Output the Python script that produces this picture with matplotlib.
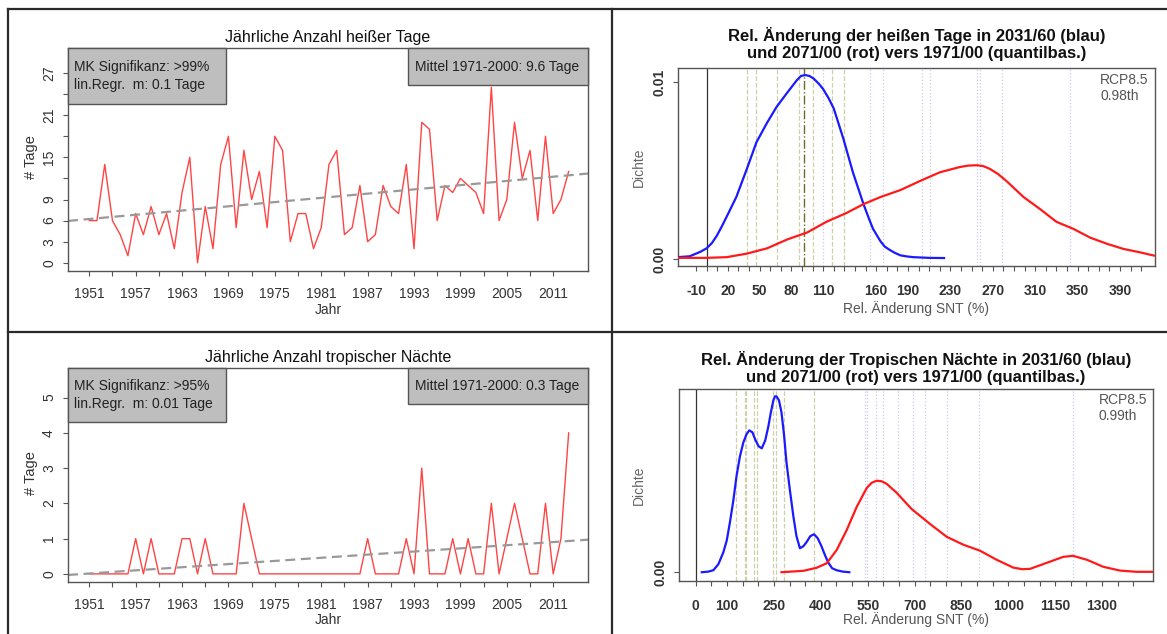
import matplotlib
matplotlib.use("Agg")
import matplotlib.pyplot as plt
from matplotlib.lines import Line2D
from matplotlib.patches import Rectangle

plt.rcParams['font.family'] = ['Liberation Sans', 'DejaVu Sans']

# --- data ---
years = list(range(1951, 2014))
hot_days = [6, 6, 14, 6, 4, 1, 7, 4, 8, 4,
            7, 2, 10, 15, 0, 8, 2, 14, 18, 5,
            16, 9, 13, 5, 18, 16, 3, 7, 7, 2,
            5, 14, 16, 4, 5, 11, 3, 4, 11, 8,
            7, 14, 2, 20, 19, 6, 11, 10, 12, 11,
            10, 7, 25, 6, 9, 20, 12, 16, 6, 18,
            7, 9, 13]
trop_nights = [0, 0, 0, 0, 0, 0, 1, 0, 1, 0,
               0, 0, 1, 1, 0, 1, 0, 0, 0, 0,
               2, 1, 0, 0, 0, 0, 0, 0, 0, 0,
               0, 0, 0, 0, 0, 0, 1, 0, 0, 0,
               0, 1, 0, 3, 0, 0, 0, 1, 0, 1,
               0, 0, 2, 0, 1, 2, 1, 0, 0, 2,
               0, 1, 4]
trend_years = [1948.25, 2015.5]
trend_hot = [5.95, 12.7]
trend_trop = [-0.03, 0.97]

# density curves, heisse Tage
hot_blue_x = [-27, -16, -6, 0, 5, 9.5, 14, 19, 28, 38, 47, 57, 66, 76, 85, 89, 93, 97,
              101, 106, 110, 115, 120, 129, 138, 148, 153, 157, 161, 164, 168, 173,
              178, 183, 189, 195, 210, 224]
hot_blue_y = [0.0001, 0.00015, 0.0004, 0.0006, 0.0009, 0.0013, 0.0018, 0.0024, 0.0035,
              0.0051, 0.0066, 0.0077, 0.0086, 0.0094, 0.0101, 0.01035, 0.0104, 0.01035,
              0.0102, 0.0099, 0.0096, 0.0091, 0.0085, 0.0068, 0.0049, 0.0031, 0.0023,
              0.0017, 0.0013, 0.0010, 0.0007, 0.0005, 0.00033, 0.0002, 0.00014, 0.0001,
              0.00006, 0.00005]
hot_red_x = [-27, 0, 19, 38, 57, 76, 95, 113, 132, 148, 164, 183, 201, 220, 239, 247,
             255, 261, 267, 275, 283, 299, 315, 330, 346, 362, 378, 393, 409, 422]
hot_red_y = [0.00006, 0.00006, 0.0001, 0.0003, 0.0006, 0.0011, 0.0015, 0.0021, 0.0026,
             0.0031, 0.0035, 0.0039, 0.0044, 0.0049, 0.0052, 0.00528, 0.0053, 0.00525,
             0.0051, 0.0048, 0.0044, 0.0035, 0.0028, 0.0021, 0.0017, 0.0012, 0.00085,
             0.00057, 0.00037, 0.00019]
hot_q_blue = [38, 47, 66, 87, 100, 118, 130]
hot_q_blue_median = 92
hot_q_red = [110, 154, 166, 203, 211, 255, 258, 279, 343]

# density curves, tropische Naechte
trop_blue_x = [19, 40, 56, 72, 88, 99, 109, 120, 130, 141, 152, 162, 171, 181, 191, 201,
               211, 222, 232, 240, 248, 253, 258, 266, 274, 282, 290, 301, 312, 322,
               333, 344, 354, 366, 378, 390, 402, 412, 423, 436, 450, 470, 491]
trop_blue_y = [0.0, 0.00003, 0.0001, 0.0004, 0.001, 0.0016, 0.0025, 0.0036, 0.0048,
               0.0058, 0.0065, 0.0069, 0.0071, 0.0070, 0.0066, 0.0063, 0.0062, 0.0066,
               0.0073, 0.0080, 0.0086, 0.0088, 0.0088, 0.0086, 0.008, 0.0069, 0.0055,
               0.0041, 0.0028, 0.0018, 0.0012, 0.0013, 0.0015, 0.0018, 0.0019, 0.0017,
               0.0013, 0.0009, 0.0005, 0.0002, 0.0001, 0.00003, 0.0]
trop_red_x = [274, 344, 386, 419, 451, 483, 515, 547, 563, 579, 595, 611, 643, 690, 749,
              803, 857, 909, 963, 1016, 1045, 1070, 1123, 1176, 1207, 1252, 1304, 1358,
              1411, 1463]
trop_red_y = [0.0, 0.00007, 0.00022, 0.00045, 0.00112, 0.00212, 0.00328, 0.00422,
              0.00448, 0.00458, 0.00455, 0.00442, 0.00397, 0.00317, 0.00242, 0.00177,
              0.00137, 0.00108, 0.00062, 0.00023, 0.00015, 0.00017, 0.00047, 0.00077,
              0.00082, 0.00062, 0.00027, 0.00008, 0.00002, 0.00002]
trop_q_blue = [128, 157, 160, 186, 195, 246, 258, 282, 378]
trop_q_red = [541, 547, 576, 598, 647, 695, 733, 803, 906, 1207]

hot_xlabels = [-10, 20, 50, 80, 110, 160, 190, 230, 270, 310, 350, 390]
trop_xlabels = [0, 100, 250, 400, 550, 700, 850, 1000, 1150, 1300]

W, H = 1167, 634
fig = plt.figure(figsize=(W / 100, H / 100), dpi=100)


def px_axes(l, t, r, b):
    return fig.add_axes([l / W, 1 - b / H, (r - l) / W, (b - t) / H])


def style(ax, bold=False, xpad=8):
    for s in ax.spines.values():
        s.set_color('#555555')
        s.set_linewidth(1.0)
    ax.tick_params(direction='out', length=3.6, width=0.8, color='#555555',
                   labelcolor='#333333', labelsize=10)
    ax.tick_params(axis='x', pad=xpad)
    ax.tick_params(axis='y', pad=5)
    for lab in ax.get_yticklabels():
        lab.set_rotation(90)
        lab.set_va('center')
    if bold:
        for lab in ax.get_xticklabels() + ax.get_yticklabels():
            lab.set_fontweight('bold')


def info_box(ax, x0, x1, y0, lines, tx):
    ax.add_patch(Rectangle((x0, y0), x1 - x0, 1 - y0, transform=ax.transAxes,
                           facecolor='#bebebe', edgecolor='#555555', lw=1.0,
                           zorder=5, clip_on=False))
    ax.text(tx, y0 + (1 - y0) / 2, lines, transform=ax.transAxes, ha='left',
            va='center', fontsize=10, color='#222222', zorder=6, linespacing=1.35)


def timeseries(ax, values, trend, ylim, yticks, ylabels, title, box_l, box_r):
    ax.plot(years, values, color='#ff4444', lw=1.0)
    ax.plot(trend_years, trend, color='#999999', lw=1.6, dashes=(4.5, 2.5))
    ax.set_xlim(1948.25, 2015.5)
    ax.set_ylim(*ylim)
    ax.set_xticks(range(1951, 2012, 3))
    ax.set_xticklabels([str(y) if (y - 1951) % 6 == 0 else '' for y in range(1951, 2012, 3)])
    ax.set_yticks(yticks)
    ax.set_yticklabels(ylabels)
    ax.set_title(title, fontsize=11.5, pad=4.5, color='#111111')
    ax.set_xlabel('Jahr', fontsize=10, color='#333333')
    ax.set_ylabel('# Tage', fontsize=10.5, color='#333333')
    ax.xaxis.set_label_coords(0.5, -0.145)
    ax.yaxis.set_label_coords(-0.058, 0.51)
    style(ax)
    info_box(ax, 0, 0.304, box_l[0], box_l[1], 0.012)
    info_box(ax, 0.654, 1.0, box_r[0], box_r[1], 0.668)


def density(ax, bx, by, rx, ry, qb, qr, qmed, xlim, ylim, ticks, labeled, yticks,
            title, tag, tpad):
    for q in qb:
        ax.axvline(q, color='#cfcfa8', lw=0.9, ls='--', zorder=1)
    if qmed is not None:
        ax.axvline(qmed, color='#6b6b2a', lw=1.0, ls='-.', zorder=1)
    for q in qr:
        ax.axvline(q, color='#c9c9f2', lw=0.9, ls=':', zorder=1)
    ax.axvline(0, color='#333333', lw=0.9, zorder=2)
    ax.plot(bx, by, color='#1a1aff', lw=1.6, zorder=3)
    ax.plot(rx, ry, color='#ff1a1a', lw=1.6, zorder=3)
    ax.set_xlim(*xlim)
    ax.set_ylim(*ylim)
    ax.set_xticks(ticks)
    ax.set_xticklabels([str(t) if t in labeled else '' for t in ticks])
    ax.set_yticks(yticks)
    ax.set_yticklabels(['%.2f' % v for v in yticks])
    ax.set_title(title, fontsize=12, fontweight='bold', pad=tpad, linespacing=1.2,
                 color='#111111')
    ax.set_xlabel('Rel. Änderung SNT (%)', fontsize=10, color='#555555')
    ax.set_ylabel('Dichte', fontsize=10, color='#666666')
    ax.text(0.885, 0.9, tag, transform=ax.transAxes, ha='left', va='center',
            fontsize=10, color='#555555', linespacing=1.2)
    style(ax, bold=True, xpad=9)


ax1 = px_axes(68, 48, 588, 271)
timeseries(ax1, hot_days, trend_hot, (-1.18, 30.58), list(range(0, 28, 3)),
           ['0', '3', '6', '9', '', '15', '', '21', '', '27'],
           'Jährliche Anzahl heißer Tage',
           (0.749, 'MK Signifikanz: >99%\nlin.Regr.  m: 0.1 Tage'),
           (0.834, 'Mittel 1971-2000: 9.6 Tage'))

ax2 = px_axes(68, 368, 588, 582)
timeseries(ax2, trop_nights, trend_trop, (-0.23, 5.84), [0, 1, 2, 3, 4, 5],
           ['0', '1', '2', '3', '4', '5'],
           'Jährliche Anzahl tropischer Nächte',
           (0.747, 'MK Signifikanz: >95%\nlin.Regr.  m: 0.01 Tage'),
           (0.832, 'Mittel 1971-2000: 0.3 Tage'))

ax3 = px_axes(678, 68, 1155, 266)
density(ax3, hot_blue_x, hot_blue_y, hot_red_x, hot_red_y, hot_q_blue, hot_q_red,
        hot_q_blue_median, (-27, 423), (-0.0004, 0.0108), list(range(-10, 411, 10)),
        hot_xlabels, [0.0, 0.01],
        'Rel. Änderung der heißen Tage in 2031/60 (blau)\nund 2071/00 (rot) vers 1971/00 (quantilbas.)',
        'RCP8.5\n0.98th', 7)
ax3.xaxis.set_label_coords(0.5, -0.175)
ax3.yaxis.set_label_coords(-0.068, 0.5)

ax4 = px_axes(679, 389, 1153, 581)
density(ax4, trop_blue_x, trop_blue_y, trop_red_x, trop_red_y, trop_q_blue, trop_q_red,
        None, (-54, 1463), (-0.00044, 0.00917), list(range(0, 1401, 50)),
        trop_xlabels, [0.0],
        'Rel. Änderung der Tropischen Nächte in 2031/60 (blau)\nund 2071/00 (rot) vers 1971/00 (quantilbas.)',
        'RCP8.5\n0.99th', 5)
ax4.xaxis.set_label_coords(0.5, -0.16)
ax4.yaxis.set_label_coords(-0.07, 0.5)

# panel frame
frame = dict(transform=fig.transFigure, color='#2a2a2a', lw=1.6)
fig.add_artist(Line2D([8 / W, 1], [1 - 9 / H, 1 - 9 / H], **frame))
fig.add_artist(Line2D([8 / W, 8 / W], [0, 1 - 9 / H], **frame))
fig.add_artist(Line2D([611.7 / W, 611.7 / W], [0, 1 - 9 / H], **frame))
fig.add_artist(Line2D([8 / W, 1], [1 - 332.3 / H, 1 - 332.3 / H], **frame))

fig.savefig('out.png', dpi=100)
